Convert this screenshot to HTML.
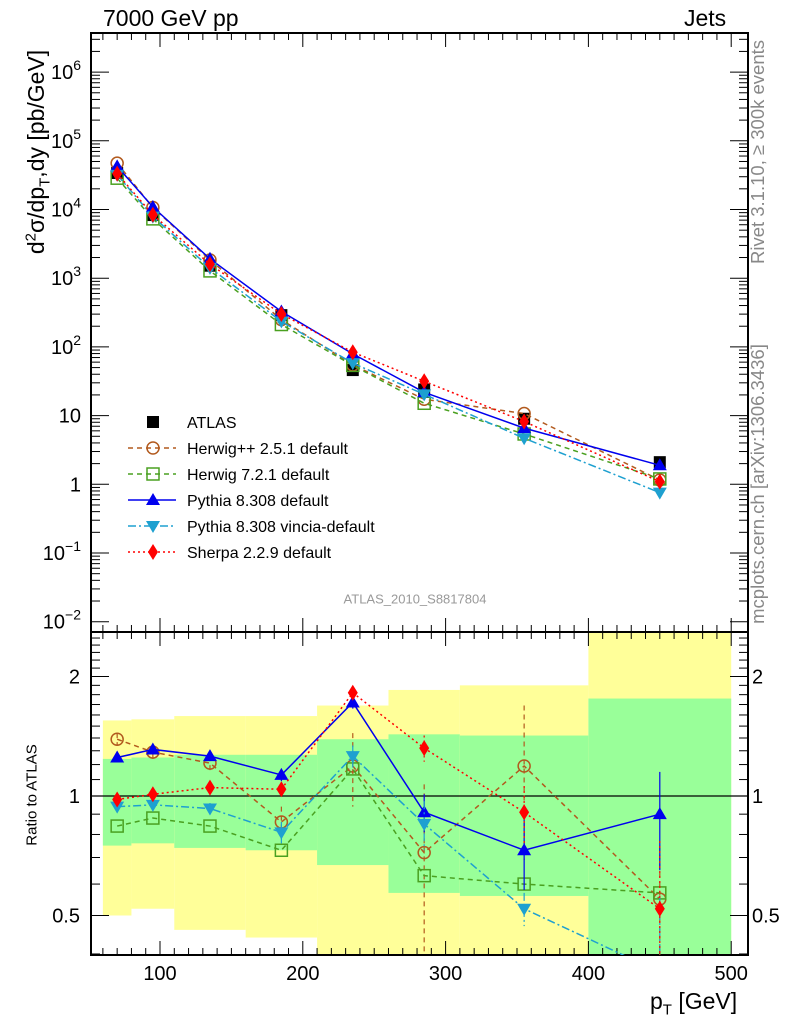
<!DOCTYPE html>
<html><head><meta charset="utf-8"><style>
body{margin:0;background:#fff;font-family:"Liberation Sans",sans-serif}
svg{display:block}
</style></head><body>
<svg id="c" width="786" height="1024" xmlns="http://www.w3.org/2000/svg" font-family="Liberation Sans, sans-serif"></svg>
<script>
const pts=[70,95,135,185,235,285,355,450];
const atlas=[34000,8300,1520,290,46,24,9,2.1];
const rHpp=[1.39,1.29,1.21,0.86,1.19,0.72,1.19,0.55];
const rH7=[0.84,0.88,0.84,0.73,1.17,0.63,0.60,0.57];
const rPy=[1.25,1.31,1.26,1.13,1.72,0.91,0.73,0.90];
const rVin=[0.94,0.95,0.93,0.81,1.26,0.85,0.52,0.36];
const rSh=[0.98,1.01,1.05,1.04,1.82,1.32,0.91,0.52];
const binEdges=[60,80,110,160,210,260,310,400,500];
const yelLo=[0.5,0.52,0.46,0.44,0.3,0.3,0.3,0.3];
const yelHi=[1.55,1.56,1.59,1.59,1.69,1.85,1.9,3];
const grnLo=[0.75,0.76,0.74,0.73,0.67,0.57,0.56,0.3];
const grnHi=[1.24,1.25,1.27,1.27,1.39,1.43,1.42,1.76];
const errHpp=[0.05,0.05,0.05,0.08,0.25,0.35,0.5,0.2];
const errPy=[0.03,0.03,0.03,0.04,0.06,0.1,0.15,0.25];
const errSh=[0.03,0.03,0.03,0.04,0.06,0.1,0.15,0.25];
const errVin=[0.03,0.03,0.03,0.05,0.08,0.12,0.05,0.2];
const xTicks=[100,200,300,400,500];
const mainTicks=[-2,-1,0,1,2,3,4,5,6];
const ratioTicks=[0.5,1,2];

const S=document.getElementById('c');const NS='http://www.w3.org/2000/svg';
function el(t,a,p){const e=document.createElementNS(NS,t);for(const k in a)e.setAttribute(k,a[k]);(p||S).appendChild(e);return e;}
const L=91,R=748,T1=33,B1=632,T2=632,B2=955;
const X=v=>160+(v-100)*1.428;
const Y=v=>209.5-(Math.log10(v)-4)*68.7;
const YR=v=>796-Math.log2(v)*119.5;
const clipR=el('clipPath',{id:'cr'});el('rect',{x:L,y:T2,width:R-L,height:B2-T2},clipR);
const clipM=el('clipPath',{id:'cm'});el('rect',{x:L,y:T1,width:R-L,height:B1-T1},clipM);
const gb=el('g',{'clip-path':'url(#cr)'});
for(let i=0;i<8;i++){
 const y=el('rect',{x:X(binEdges[i]),y:YR(yelHi[i]),width:X(binEdges[i+1])-X(binEdges[i]),height:YR(yelLo[i])-YR(yelHi[i]),fill:'#ffff99'},gb);
 
 const g=el('rect',{x:X(binEdges[i]),y:YR(grnHi[i]),width:X(binEdges[i+1])-X(binEdges[i]),height:YR(grnLo[i])-YR(grnHi[i]),fill:'#99ff99'},gb);
 
}
el('line',{x1:L,x2:R,y1:YR(1),y2:YR(1),stroke:'#000','stroke-width':1.2});
el('rect',{x:L,y:T1,width:R-L,height:B1-T1,fill:'none',stroke:'#000','stroke-width':2});
el('rect',{x:L,y:T2,width:R-L,height:B2-T2,fill:'none',stroke:'#000','stroke-width':2});
for(let v=60;v<=500;v+=10){const maj=v%100==0;const l=maj?14:7;
 [[T1,1],[B1,-1],[T2,1],[B2,-1]].forEach(([y,d])=>el('line',{x1:X(v),x2:X(v),y1:y,y2:y+d*l,stroke:'#000','stroke-width':1}));}
xTicks.forEach(v=>{const t=el('text',{x:X(v),y:980,'font-size':20,'text-anchor':'middle'});t.textContent=v;});
for(let e=-2;e<=6;e++){for(let m=1;m<10;m++){const v=m*Math.pow(10,e);const y=Y(v);if(y<T1||y>B1)continue;const l=m==1?18:9;
 el('line',{x1:L,x2:L+l,y1:y,y2:y,stroke:'#000'});el('line',{x1:R,x2:R-l,y1:y,y2:y,stroke:'#000'});}}
mainTicks.forEach(e=>{const t=el('text',{x:81,y:Y(Math.pow(10,e))+7,'font-size':20,'text-anchor':'end'});
 let s;
 if(e==0)s='1';else if(e==1)s='10';
 else s='10<tspan dy="-9" font-size="14">'+(e<0?'−'+(-e):e)+'</tspan>';
 t.innerHTML=s;});
[0.4,0.5,0.6,0.7,0.8,0.9,1,1.1,1.2,1.3,1.4,1.5,1.6,1.7,1.8,1.9,2,2.1,2.2,2.3,2.4,2.5].forEach(v=>{const y=YR(v);if(y<T2||y>B2)return;const l=(v==0.5||v==1||v==2)?18:9;
 el('line',{x1:L,x2:L+l,y1:y,y2:y,stroke:'#000'});el('line',{x1:R,x2:R-l,y1:y,y2:y,stroke:'#000'});});
ratioTicks.forEach(v=>{[[80,'end'],[752,'start']].forEach(([x,a])=>{const t=el('text',{x:x,y:YR(v)+7,'font-size':20,'text-anchor':a});t.textContent=v;});});
const series=[
 {n:'herwigpp',r:rHpp,c:'#b25a1e',d:'5,4',m:'circ',e:errHpp},
 {n:'herwig7',r:rH7,c:'#4aa020',d:'5,4',m:'sq',e:null},
 {n:'pythia',r:rPy,c:'#0000ee',d:'',m:'tri',e:errPy},
 {n:'vincia',r:rVin,c:'#1ea0d0',d:'8,3,2,3',m:'itri',e:errVin},
 {n:'sherpa',r:rSh,c:'#ff0000',d:'2,3',m:'dia',e:errSh}];
function marker(m,x,y,c,g){
 if(m=='circ')return el('circle',{cx:x,cy:y,r:6,fill:'none',stroke:c,'stroke-width':1.5},g);
 if(m=='sq')return el('rect',{x:x-6,y:y-6,width:12,height:12,fill:'none',stroke:c,'stroke-width':1.5},g);
 if(m=='tri')return el('polygon',{points:`${x-7},${y+5} ${x+7},${y+5} ${x},${y-7}`,fill:c},g);
 if(m=='itri')return el('polygon',{points:`${x-7},${y-5} ${x+7},${y-5} ${x},${y+7}`,fill:c},g);
 if(m=='dia')return el('polygon',{points:`${x},${y-8} ${x+5},${y} ${x},${y+8} ${x-5},${y}`,fill:c},g);
 if(m=='blk')return el('rect',{x:x-6,y:y-6,width:12,height:12,fill:'#000'},g);
}
const gm=el('g',{'clip-path':'url(#cm)'});
const gr=el('g',{'clip-path':'url(#cr)'});
pts.forEach((p,i)=>{const m=marker('blk',X(p),Y(atlas[i]),'#000',gm);});
series.forEach(s=>{
 const vals=pts.map((p,i)=>atlas[i]*s.r[i]);
 const pl=el('polyline',{points:pts.map((p,i)=>X(p)+','+Y(vals[i])).join(' '),fill:'none',stroke:s.c,'stroke-width':1.5,'stroke-dasharray':s.d},gm);
 
 const rl=el('polyline',{points:pts.map((p,i)=>X(p)+','+YR(s.r[i])).join(' '),fill:'none',stroke:s.c,'stroke-width':1.5,'stroke-dasharray':s.d},gr);
 
 pts.forEach((p,i)=>{
  if(s.e){const e=s.e[i];el('line',{x1:X(p),x2:X(p),y1:YR(s.r[i]+e),y2:YR(Math.max(0.2,s.r[i]-e)),stroke:s.c,'stroke-width':1.2,'stroke-dasharray':s.d},gr);}
  const a=marker(s.m,X(p),Y(vals[i]),s.c,gm);
  const b=marker(s.m,X(p),YR(s.r[i]),s.c,gr);
 });
});
const leg=[['ATLAS','blk','#000',''],['Herwig++ 2.5.1 default','circ','#b25a1e','5,4'],['Herwig 7.2.1 default','sq','#4aa020','5,4'],['Pythia 8.308 default','tri','#0000ee',''],['Pythia 8.308 vincia-default','itri','#1ea0d0','8,3,2,3'],['Sherpa 2.2.9 default','dia','#ff0000','2,3']];
const lg=el('g',{});
leg.forEach((l,i)=>{const y=422+i*26;
 if(i>0)el('line',{x1:128,x2:176,y1:y,y2:y,stroke:l[2],'stroke-width':1.5,'stroke-dasharray':l[3]},lg);
 marker(l[1],153,y,l[2],lg);
 const t=el('text',{x:187,y:y+6,'font-size':16},lg);t.textContent=l[0];});
</script>
<div style="position:absolute;left:103px;top:5px;font-size:23px">7000 GeV pp</div>
<div style="position:absolute;left:684px;top:5px;font-size:23px">Jets</div>
<div style="position:absolute;left:38px;top:152px;transform:translate(-50%,-50%) rotate(-90deg);font-size:23px;white-space:nowrap">d<sup style="font-size:15px">2</sup>σ/dp<sub style="font-size:15px">T</sub>,dy [pb/GeV]</div>
<div style="position:absolute;left:32px;top:795px;transform:translate(-50%,-50%) rotate(-90deg);font-size:15px;white-space:nowrap">Ratio to ATLAS</div>
<div style="position:absolute;left:650px;top:988px;font-size:23px;white-space:nowrap">p<sub style="font-size:15px">T</sub> [GeV]</div>
<div style="position:absolute;left:758px;top:152px;transform:translate(-50%,-50%) rotate(-90deg);font-size:18.5px;color:#888;white-space:nowrap">Rivet 3.1.10, ≥ 300k events</div>
<div style="position:absolute;left:758px;top:484px;transform:translate(-50%,-50%) rotate(-90deg);font-size:18.5px;color:#888;white-space:nowrap">mcplots.cern.ch [arXiv:1306.3436]</div>
<div style="position:absolute;left:415px;top:599px;transform:translate(-50%,-50%);font-size:13px;color:#999;white-space:nowrap">ATLAS_2010_S8817804</div>
</body></html>
